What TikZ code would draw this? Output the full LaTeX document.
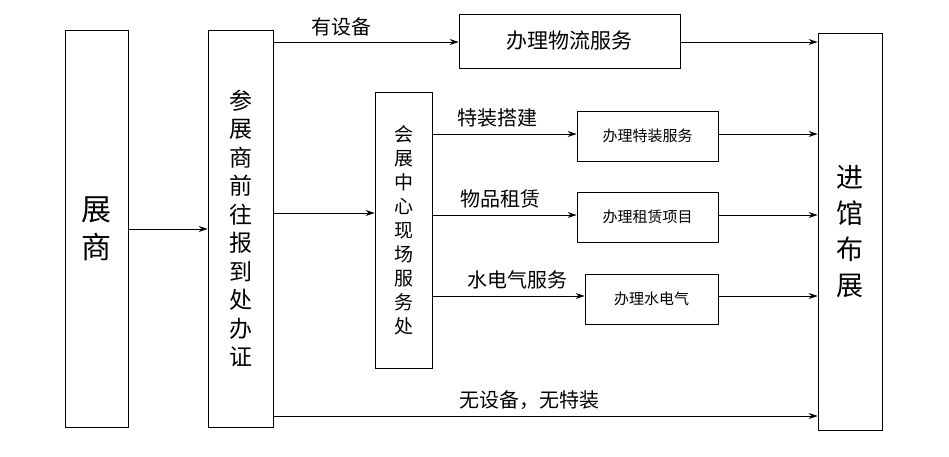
\documentclass[tikz,border=0pt]{standalone}
\usepackage{fontspec}
\newfontfamily\cjk{Noto Sans CJK SC}
\usetikzlibrary{arrows.meta}
\begin{document}
\begin{tikzpicture}[x=1pt,y=-1pt,
 box/.style={draw,line width=0.8pt,inner sep=0pt,font=\cjk},
 arr/.style={-{Stealth[length=9pt,width=6pt]},line width=0.9pt},
 lab/.style={font=\cjk\fontsize{20}{20}\selectfont,inner sep=0pt}]
\useasboundingbox (0,0) rectangle (949,457);
\fill[white] (0,0) rectangle (949,457);
\node[box,minimum width=63pt,minimum height=397pt,align=center,font=\cjk\fontsize{30}{38}\selectfont] (zs) at (96.5,228.5) {展\\商};
\node[box,minimum width=65pt,minimum height=397pt,align=center,font=\cjk\fontsize{23}{28.5}\selectfont] (cz) at (240.5,228.5) {参\\展\\商\\前\\往\\报\\到\\处\\办\\证};
\node[box,minimum width=57pt,minimum height=276pt,align=center,font=\cjk\fontsize{19}{24}\selectfont] (hz) at (403.5,230) {会\\展\\中\\心\\现\\场\\服\\务\\处};
\node[box,minimum width=221pt,minimum height=54pt,font=\cjk\fontsize{21}{21}\selectfont] (wl) at (569.5,41) {办理物流服务};
\node[box,minimum width=141pt,minimum height=50pt,font=\cjk\fontsize{15}{15}\selectfont] (tz) at (647.5,136) {办理特装服务};
\node[box,minimum width=141pt,minimum height=50pt,font=\cjk\fontsize{15}{15}\selectfont] (zl) at (647.5,217) {办理租赁项目};
\node[box,minimum width=133pt,minimum height=50pt,font=\cjk\fontsize{15}{15}\selectfont] (sd) at (651.5,299) {办理水电气};
\node[box,minimum width=64pt,minimum height=397pt,align=center,font=\cjk\fontsize{27}{36}\selectfont] (jg) at (850,231.5) {进\\馆\\布\\展};
\draw[arr] (zs.east|-0,229) -- (cz.west|-0,229);
\draw[arr] (cz.east|-0,42) -- node[lab,above=5pt,pos=0.37]{有设备} (wl.west|-0,42);
\draw[arr] (wl.east|-0,42) -- (jg.west|-0,42);
\draw[arr] (cz.east|-0,213) -- (hz.west|-0,213);
\draw[arr] (hz.east|-0,134) -- node[lab,above=6pt,pos=0.45]{特装搭建} (tz.west|-0,134);
\draw[arr] (tz.east|-0,134) -- (jg.west|-0,134);
\draw[arr] (hz.east|-0,215) -- node[lab,above=6pt,pos=0.47]{物品租赁} (zl.west|-0,215);
\draw[arr] (zl.east|-0,215) -- (jg.west|-0,215);
\draw[arr] (hz.east|-0,296) -- node[lab,above=6pt,pos=0.56]{水电气服务} (sd.west|-0,296);
\draw[arr] (sd.east|-0,296) -- (jg.west|-0,296);
\draw[arr] (cz.east|-0,416) -- node[lab,above=6pt,pos=0.47]{无设备，无特装} (jg.west|-0,416);
\end{tikzpicture}
\end{document}
